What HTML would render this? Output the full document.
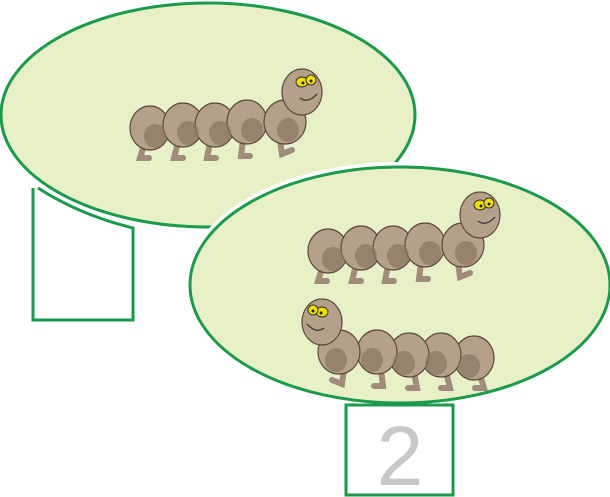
<!DOCTYPE html>
<html><head><meta charset="utf-8"><style>body{margin:0;background:#fff}svg{display:block}</style></head>
<body>
<svg width="610" height="497" viewBox="0 0 610 497">
<defs>
<g id="cat">
  <g fill="#b5a08a" stroke="#5a4a3a" stroke-width="1.2">
    <path d="M145,142 l-5,16 l9,0 M178,142 l-4,16 l9,0 M210,142 l-3,16 l9,0 M243,140 l-2,16 l9,0 M280,140 l2,14 l10,-4" fill="none" stroke="#a08c78" stroke-width="6" stroke-linecap="round"/>
    <ellipse cx="150" cy="128" rx="20" ry="22"/>
    <ellipse cx="183" cy="125" rx="20" ry="22"/>
    <ellipse cx="215" cy="125" rx="20" ry="22"/>
    <ellipse cx="247" cy="122" rx="20" ry="22"/>
    <ellipse cx="285" cy="122" rx="21" ry="22"/>
    <ellipse cx="302" cy="92" rx="20" ry="23"/>
  </g>
  <g fill="#8a7664" opacity="0.7">
    <ellipse cx="155" cy="136" rx="11" ry="12"/><ellipse cx="188" cy="133" rx="11" ry="12"/>
    <ellipse cx="220" cy="133" rx="11" ry="12"/><ellipse cx="252" cy="130" rx="11" ry="12"/>
    <ellipse cx="288" cy="130" rx="11" ry="12"/>
  </g>
  <ellipse cx="302" cy="82" rx="6" ry="5" fill="#f0e000" stroke="#333"/>
  <ellipse cx="311" cy="80" rx="5" ry="5" fill="#f0e000" stroke="#333"/>
  <circle cx="303" cy="83" r="1.5" fill="#222"/><circle cx="311" cy="81" r="1.5" fill="#222"/>
  <path d="M300,98 q8,6 17,-4" fill="none" stroke="#333" stroke-width="1.3"/>
</g>
</defs>
<ellipse cx="208" cy="115" rx="207" ry="112" fill="#e8f0c8" stroke="#1a9a4a" stroke-width="3"/>
<path d="M33,188 L33,320 L133,320 L133,228 Q80,215 38,188" fill="#fff" stroke="#1a9a4a" stroke-width="3"/>
<use href="#cat"/>
<ellipse cx="400" cy="285" rx="210" ry="118" fill="none" stroke="#fff" stroke-width="10"/>
<ellipse cx="400" cy="285" rx="210" ry="118" fill="#e8f0c8" stroke="#1a9a4a" stroke-width="3"/>
<use href="#cat" transform="translate(178,123)"/>
<use href="#cat" transform="translate(624,230) scale(-1,1)"/>
<rect x="346" y="405" width="107" height="90" fill="#fff" stroke="#1a9a4a" stroke-width="3"/>
<text x="400" y="485" text-anchor="middle" font-family="Liberation Sans, sans-serif" font-size="84" fill="#c8c8c8">2</text>
</svg>
</body></html>
